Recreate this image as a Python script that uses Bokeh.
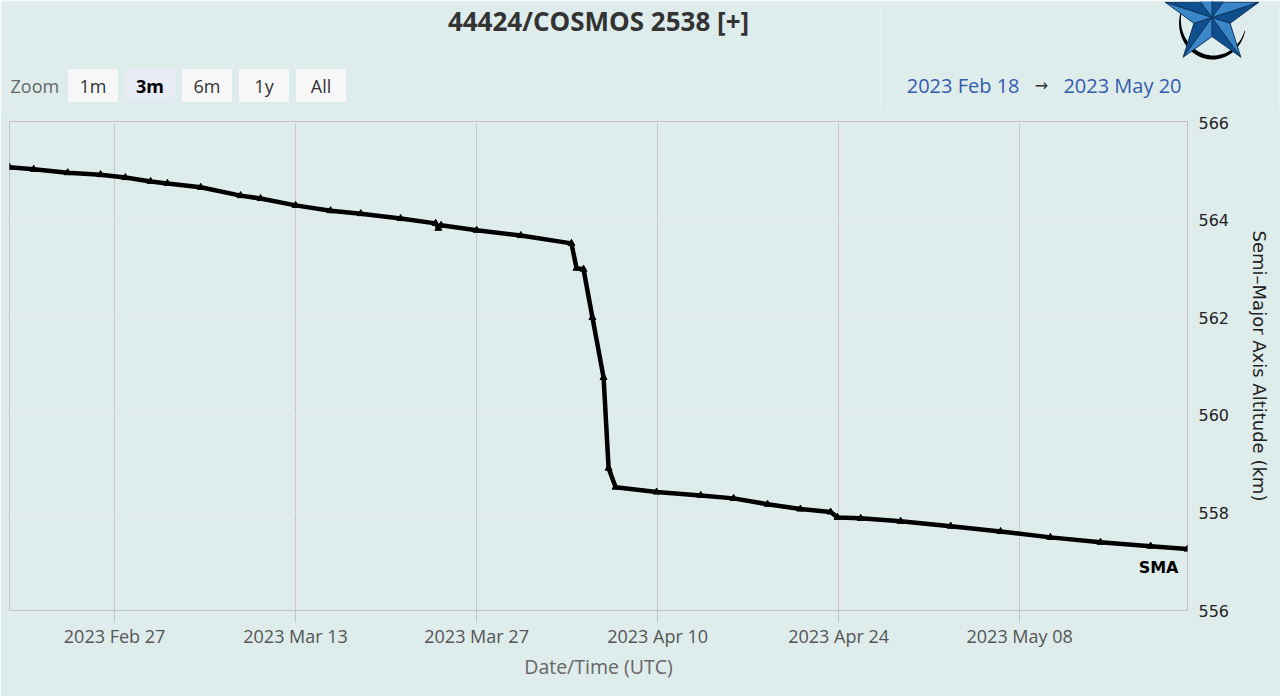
import math
import numpy as np
import pandas as pd
from bokeh.plotting import figure
from bokeh.models import Range1d, FixedTicker, DatetimeTickFormatter, ColumnDataSource
from bokeh.layouts import column, row
from bokeh.core.properties import value
from bokeh.embed import file_html
from bokeh.resources import INLINE

# ---------------- data ----------------
title_text = "44424/COSMOS 2538 [+]"
series_name = "SMA"
zoom_labels = ["1m", "3m", "6m", "1y", "All"]
zoom_selected = "3m"

epochs = [
    "2023-02-18 21:00", "2023-02-20 18:00", "2023-02-23 09:00", "2023-02-25 22:00",
    "2023-02-27 20:00", "2023-03-01 19:00", "2023-03-03 02:00", "2023-03-05 16:00",
    "2023-03-08 18:00", "2023-03-10 07:00", "2023-03-13 00:00", "2023-03-15 17:00",
    "2023-03-18 01:00", "2023-03-21 03:00", "2023-03-23 20:00", "2023-03-24 01:00",
    "2023-03-24 06:00", "2023-03-27 00:00", "2023-03-30 10:00", "2023-04-03 08:00",
    "2023-04-03 17:30", "2023-04-04 06:30", "2023-04-04 23:00", "2023-04-05 19:40",
    "2023-04-06 05:00", "2023-04-06 18:00", "2023-04-09 22:00", "2023-04-13 08:00",
    "2023-04-15 21:00", "2023-04-18 12:00", "2023-04-21 01:00", "2023-04-23 09:00",
    "2023-04-23 22:00", "2023-04-25 17:00", "2023-04-28 19:00", "2023-05-02 16:00",
    "2023-05-06 12:30", "2023-05-10 09:00", "2023-05-14 06:00", "2023-05-18 03:00",
    "2023-05-20 23:30",
]
sma_km = [
    565.09, 565.05, 564.98, 564.94,
    564.88, 564.80, 564.76, 564.68,
    564.51, 564.45, 564.31, 564.20,
    564.14, 564.04, 563.94, 563.84,
    563.90, 563.80, 563.69, 563.53,
    563.02, 563.00, 562.01, 560.78,
    558.92, 558.53, 558.43, 558.36,
    558.30, 558.18, 558.08, 558.02,
    557.91, 557.89, 557.83, 557.73,
    557.62, 557.50, 557.40, 557.32,
    557.26,
]
x_tick_dates = ["2023-02-27", "2023-03-13", "2023-03-27", "2023-04-10", "2023-04-24", "2023-05-08"]
y_ticks = [556, 558, 560, 562, 564, 566]
y_label = "Semi\u2013Major Axis Altitude (km)"
x_label = "Date/Time (UTC)"

# ---------------- styling ----------------
BG = "#dfecec"
W = 1280
HEADER_H = 112
FRAME_L, FRAME_R = 9, 1187
SPLIT = 880
PAD = 1

dates = pd.to_datetime(epochs)
src = ColumnDataSource(dict(t=dates, v=sma_km))


def blank(width, x0, x1):
    # a borderless panel whose data coordinates equal page pixels
    f = figure(width=width, height=HEADER_H, output_backend="svg", toolbar_location=None,
               x_range=Range1d(x0 + PAD, x1 - PAD), y_range=Range1d(HEADER_H - PAD, PAD),
               x_axis_location=None, y_axis_location=None,
               min_border_left=PAD, min_border_right=PAD,
               min_border_top=PAD, min_border_bottom=PAD)
    f.grid.visible = False
    f.outline_line_color = None
    f.background_fill_color = BG
    f.border_fill_color = BG
    return f


# ---------------- header, left part (page coordinates) ----------------
hdr = blank(SPLIT, 0, SPLIT)
hdr.text(x=[598], y=[20], text=[title_text], text_align="center", text_baseline="middle",
         text_font=value("Open Sans"), text_font_style="bold", text_font_size="26px",
         text_color="#333333")
hdr.text(x=[10], y=[85], text=["Zoom"], text_align="left", text_baseline="middle",
         text_font=value("Open Sans"), text_font_size="18px", text_color="#666666")
bl = [68 + i * 57 for i in range(len(zoom_labels))]
br = [b + 49 for b in bl]
bc = [(a + b) / 2 for a, b in zip(bl, br)]
fills = ["#e6ebf5" if z == zoom_selected else "#f7f7f7" for z in zoom_labels]
hdr.quad(left=bl, right=br, top=[69] * len(bl), bottom=[101] * len(bl),
         fill_color=fills, line_color=fills)
for z, bx in zip(zoom_labels, bc):
    sel = z == zoom_selected
    hdr.text(x=[bx], y=[85], text=[z], text_align="center", text_baseline="middle",
             text_font=value("Open Sans"), text_font_size="18px",
             text_font_style="bold" if sel else "normal",
             text_color="#000000" if sel else "#333333")

# ---------------- header, right part: date range + logo ----------------
hr = blank(W - SPLIT + 1, SPLIT - 1, W)
hr.margin = (0, 0, 0, -1)
cx, cy, R, r = 1211.5, 17.0, 49.0, 19.0
t = np.linspace(math.radians(200), math.radians(15), 48)
s = np.linspace(0, 1, 48)
th = 0.6 + 3.6 * np.sin(np.pi * s)
ex, ey, ea, eb = cx + 1, cy + 4, 33.0, 36.0
ox = ex + (ea + th / 2) * np.cos(t)
oy = ey + (eb + th / 2) * np.sin(t)
ix = ex + (ea - th / 2) * np.cos(t)
iy = ey + (eb - th / 2) * np.sin(t)
hr.patch(list(ox) + list(ix[::-1]), list(oy) + list(iy[::-1]), fill_color="black",
         line_color=None)
outer = [(cx + R * math.cos(math.radians(-90 + 72 * k)), cy + R * math.sin(math.radians(-90 + 72 * k))) for k in range(5)]
inner = [(cx + r * math.cos(math.radians(-54 + 72 * k)), cy + r * math.sin(math.radians(-54 + 72 * k))) for k in range(5)]
xs_d, ys_d, xs_l, ys_l = [], [], [], []
for k in range(5):
    o, i_next, i_prev = outer[k], inner[k], inner[k - 1]
    xs_d.append([cx, o[0], i_next[0]]); ys_d.append([cy, o[1], i_next[1]])
    xs_l.append([cx, i_prev[0], o[0]]); ys_l.append([cy, i_prev[1], o[1]])
hr.patches(xs_d, ys_d, fill_color="#0f4f8e", line_color="#0b365f", line_width=1)
hr.patches(xs_l, ys_l, fill_color="#3b86c8", line_color="#0b365f", line_width=1)

d0 = dates[0].strftime("%Y %b %d")
d1 = dates[-1].strftime("%Y %b %d")
hr.text(x=[1019], y=[85], text=[d0], text_align="right", text_baseline="middle",
        text_font=value("Open Sans"), text_font_size="20px", text_color="#335cad")
hr.text(x=[1041], y=[85], text=["\u2192"], text_align="center", text_baseline="middle",
        text_font=value("DejaVu Sans"), text_font_size="16px", text_color="#333333")
hr.text(x=[1181], y=[85], text=[d1], text_align="right", text_baseline="middle",
        text_font=value("Open Sans"), text_font_size="20px", text_color="#335cad")

# ---------------- main chart ----------------
p = figure(width=W, height=696 - HEADER_H + 1, output_backend="svg", toolbar_location=None,
           x_axis_type="datetime", y_axis_location="right",
           x_range=Range1d(dates[0], dates[-1]), y_range=Range1d(556, 566.03),
           min_border_left=FRAME_L, min_border_right=W - FRAME_R,
           min_border_top=10, min_border_bottom=86)
p.margin = (-1, 0, 0, 0)
p.background_fill_color = BG
p.border_fill_color = BG
p.outline_line_color = "#c2c2c2"

p.line("t", "v", source=src, line_color="black", line_width=4.5)
p.scatter("t", "v", source=src, marker="triangle", size=7, fill_color="black",
          line_color="black")
p.text(x=[dates[-1]], y=[sma_km[-1]], text=[series_name], x_offset=-9, y_offset=18,
       text_align="right", text_baseline="middle", text_font=value("DejaVu Sans"),
       text_font_style="bold", text_font_size="16px", text_color="black")

xt = [pd.Timestamp(d).value // 10**6 for d in x_tick_dates]
p.xaxis.ticker = FixedTicker(ticks=xt)
fmt = "%Y %b %d"
p.xaxis.formatter = DatetimeTickFormatter(hours=fmt, days=fmt, months=fmt, years=fmt)
p.xaxis.minor_tick_line_color = None
p.xaxis.major_tick_out = 12
p.xaxis.major_tick_in = 0
p.xaxis.major_tick_line_color = "#c2c2c2"
p.xaxis.axis_line_color = "#c2c2c2"
p.xaxis.major_label_standoff = 1
p.xaxis.major_label_text_font = "Open Sans"
p.xaxis.major_label_text_font_size = "18px"
p.xaxis.major_label_text_color = "#555555"
p.xaxis.axis_label = x_label
p.xaxis.axis_label_text_font = "Open Sans"
p.xaxis.axis_label_text_font_size = "19.5px"
p.xaxis.axis_label_text_font_style = "normal"
p.xaxis.axis_label_text_color = "#666666"
p.xaxis.axis_label_standoff = 2

p.yaxis.ticker = FixedTicker(ticks=y_ticks)
p.yaxis.axis_line_color = None
p.yaxis.major_tick_line_color = None
p.yaxis.major_tick_out = 0
p.yaxis.major_tick_in = 0
p.yaxis.minor_tick_line_color = None
p.yaxis.major_label_standoff = 11
p.yaxis.major_label_text_font = "DejaVu Sans"
p.yaxis.major_label_text_font_size = "16px"
p.yaxis.major_label_text_color = "#222222"
p.yaxis.axis_label = y_label
p.yaxis.axis_label_text_font = "DejaVu Sans"
p.yaxis.axis_label_text_font_size = "18px"
p.yaxis.axis_label_text_font_style = "normal"
p.yaxis.axis_label_text_color = "#222222"
p.yaxis.axis_label_standoff = 17

p.xgrid.grid_line_color = "#c8c8c8"
p.ygrid.grid_line_color = "#e8e8e8"

layout = column(row(hdr, hr), p)
open("out.html", "w").write(file_html(layout, INLINE))
